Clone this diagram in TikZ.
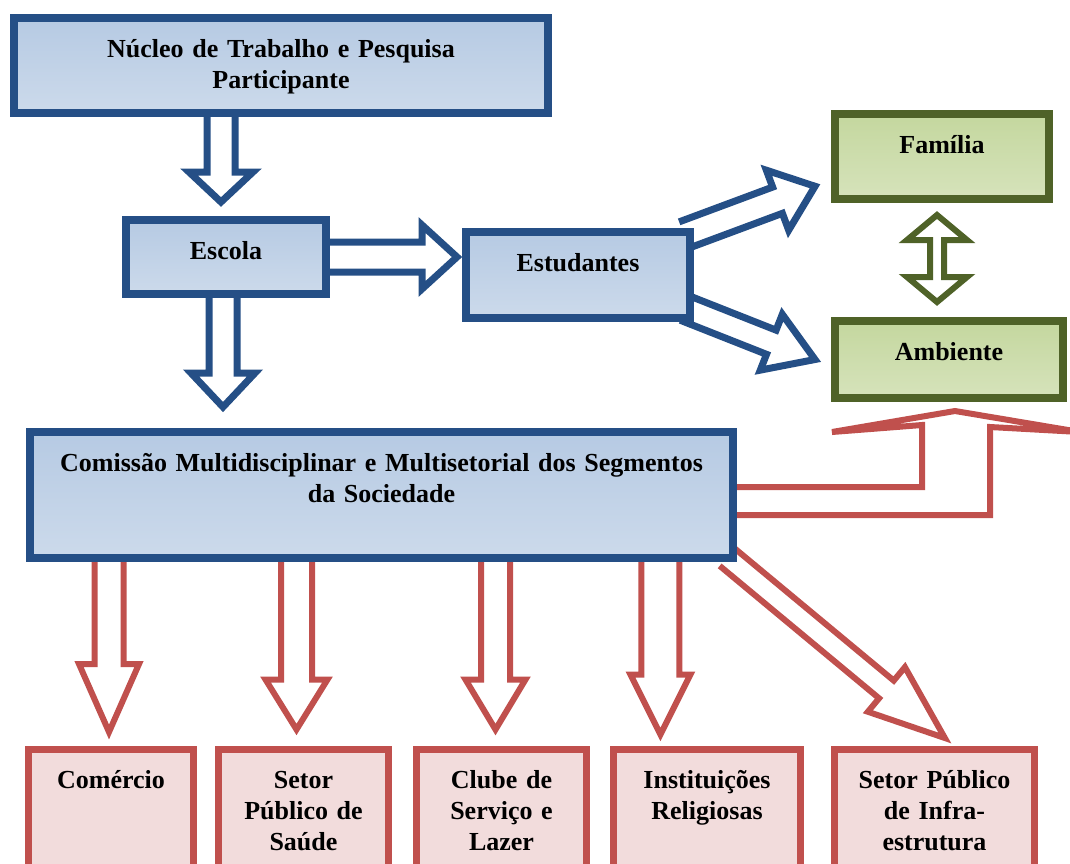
\documentclass[tikz,border=0pt]{standalone}
\usepackage{fontspec}
\setmainfont{Liberation Serif}
\usepackage[HTML]{xcolor}
\usepackage{tikz}
\usetikzlibrary{positioning, calc}

\definecolor{boxblue}{HTML}{254F86}
\definecolor{fillblue}{HTML}{B6CAE3}
\definecolor{boxgreen}{HTML}{4F6228}
\definecolor{fillgreen}{HTML}{C4D79E}
\definecolor{boxred}{HTML}{C0504D}
\definecolor{fillred}{HTML}{F2DCDC}

\pgfdeclarelayer{background}
\pgfsetlayers{background,main}

% hollow block arrow: style, start, tip, half shaft, half head, head length
\newcommand{\blockarrow}[6]{%
  \coordinate (hb) at ($(#3)!#6!(#2)$);
  \filldraw[#1] ($(#2)!#4!90:(#3)$) -- ($(hb)!#4!90:(#3)$) -- ($(hb)!#5!90:(#3)$) -- (#3)
    -- ($(hb)!#5!-90:(#3)$) -- ($(hb)!#4!-90:(#3)$) -- ($(#2)!#4!-90:(#3)$);
}
% same with a head at both ends
\newcommand{\doublearrow}[6]{%
  \coordinate (ha) at ($(#2)!#6!(#3)$);
  \coordinate (hb) at ($(#3)!#6!(#2)$);
  \filldraw[#1] (#2) -- ($(ha)!#5!90:(#3)$) -- ($(ha)!#4!90:(#3)$) -- ($(hb)!#4!-90:(#2)$)
    -- ($(hb)!#5!-90:(#2)$) -- (#3) -- ($(hb)!#5!90:(#2)$) -- ($(hb)!#4!90:(#2)$)
    -- ($(ha)!#4!-90:(#3)$) -- ($(ha)!#5!-90:(#3)$) -- cycle;
}

\begin{document}
\begin{tikzpicture}[x=0.5pt, y=-0.5pt,
  box/.style={line width=4pt, inner xsep=2pt, inner ysep=0pt, text height=19.5pt, align=center,
    font=\fontsize{13}{15.5}\selectfont\bfseries},
  bluebox/.style={box, draw=boxblue, top color=fillblue, bottom color=fillblue!70!white},
  greenbox/.style={box, draw=boxgreen, top color=fillgreen, bottom color=fillgreen!70!white},
  redbox/.style={box, line width=3.5pt, draw=boxred, fill=fillred},
  bluearrow/.style={draw=boxblue, line width=3.5pt, fill=white},
  greenarrow/.style={draw=boxgreen, line width=3pt, fill=white},
  redarrow/.style={draw=boxred, line width=3pt, fill=white}]

\useasboundingbox (0,0) rectangle (1070,863);

% --- top part ---
\node[bluebox, minimum width=267pt, text width=259pt, text depth=28pt] (nucleo) at (281,65.5)
  {Núcleo de Trabalho e Pesquisa\\Participante};
\node[bluebox, minimum width=100pt, text width=92pt, text depth=17.5pt] (escola) at (226,257) {Escola};
\node[bluebox, minimum width=112pt, text width=104pt, text depth=23.5pt] (estud) at (578,275) {Estudantes};
\node[greenbox, minimum width=107pt, text width=99pt, text depth=23pt] (familia) at (942,156.5) {Família};
\node[greenbox, minimum width=114pt, text width=106pt, text depth=19pt] (ambiente) at (949,359.5) {Ambiente};

% --- commission ---
\node[bluebox, minimum width=351.5pt, text width=345pt, text depth=43.5pt] (comissao) at (381.5,495)
  {Comissão Multidisciplinar e Multisetorial dos Segmentos\\da Sociedade};

% --- segments (boxes run past the bottom edge) ---
\node[redbox, minimum width=82.5pt, text width=78pt, text depth=55.5pt] (comercio) at (111,824.5) {Comércio};
\node[redbox, minimum width=85pt, text width=81pt, text depth=55.5pt] (saude) at (303.5,824.5) {Setor\\Público de\\Saúde};
\node[redbox, minimum width=85pt, text width=81pt, text depth=55.5pt] (clube) at (501.5,824.5) {Clube de\\Serviço e\\Lazer};
\node[redbox, minimum width=93.5pt, text width=89pt, text depth=55.5pt] (instit) at (707,824.5) {Instituições\\Religiosas};
\node[redbox, minimum width=100pt, text width=96pt, text depth=55.5pt] (infra) at (934.5,824.5) {Setor Público\\de Infra-\\estrutura};

\begin{pgfonlayer}{background}
% blue arrows
\coordinate (a1s) at ($(escola.north |- nucleo.south)+(-5,0)$);
\coordinate (a1t) at ($(escola.north)+(-5,-14)$);
\blockarrow{bluearrow}{a1s}{a1t}{7pt}{16pt}{15pt}
\coordinate (a2s) at ($(escola.south)+(-3,0)$);
\coordinate (a2t) at ($(escola.south |- comissao.north)+(-3,-21)$);
\blockarrow{bluearrow}{a2s}{a2t}{7pt}{16pt}{17pt}
\coordinate (a3t) at ($(estud.west |- escola.east)+(-5,0)$);
\blockarrow{bluearrow}{escola.east}{a3t}{7.5pt}{16pt}{17.5pt}
\coordinate (a4s) at ($(estud.north east)+(-10,7)$);
\coordinate (a4t) at ($(familia.north west)!0.82!(familia.south west)+(-16,0)$);
\blockarrow{bluearrow}{a4s}{a4t}{7pt}{16pt}{20pt}
\coordinate (a5s) at ($(estud.north east)!0.895!(estud.south east)+(-9,-4)$);
\coordinate (a5t) at ($(ambiente.west)+(-16,0)$);
\blockarrow{bluearrow}{a5s}{a5t}{6.5pt}{15pt}{23.5pt}

% green two-way arrow
\coordinate (g1) at ($(familia.south)+(-5,12)$);
\coordinate (g2) at ($(familia.south |- ambiente.north)+(-5,-15)$);
\doublearrow{greenarrow}{g1}{g2}{3.5pt}{15pt}{12.5pt}

% red bent arrow up to the environment
\coordinate (bendtip) at ($(ambiente.south)+(6,9)$);
\filldraw[redarrow] ($(comissao.east)+(0,-8)$) -- (922,487) -- (922,425) -- (832,432) -- (bendtip)
  -- (1080,432) -- (990,427) -- (990,515) -- ($(comissao.east)+(0,20)$);

% red arrows down to the segments
\coordinate (r1s) at ($(comercio.north |- comissao.south)+(-2,0)$);
\coordinate (r1t) at ($(comercio.north)+(-2,-14)$);
\blockarrow{redarrow}{r1s}{r1t}{7.25pt}{15pt}{34pt}
\coordinate (r2s) at ($(saude.north |- comissao.south)+(-7,0)$);
\coordinate (r2t) at ($(saude.north)+(-7,-16.5)$);
\blockarrow{redarrow}{r2s}{r2t}{7.75pt}{15.5pt}{25pt}
\coordinate (r3s) at ($(clube.north |- comissao.south)+(-6,0)$);
\coordinate (r3t) at ($(clube.north)+(-6,-16.5)$);
\blockarrow{redarrow}{r3s}{r3t}{7.25pt}{15pt}{25pt}
\coordinate (r4t) at ($(instit.north west)!0.26!(instit.north east)+(0,-11.5)$);
\coordinate (r4s) at (r4t |- comissao.south);
\blockarrow{redarrow}{r4s}{r4t}{9.5pt}{15pt}{30pt}
\coordinate (r5s) at ($(comissao.south east)+(-10,-5)$);
\coordinate (r5t) at ($(infra.north west)!0.55!(infra.north east)+(0,-8)$);
\blockarrow{redarrow}{r5s}{r5t}{5.75pt}{14.5pt}{38pt}
\end{pgfonlayer}

\end{tikzpicture}
\end{document}
